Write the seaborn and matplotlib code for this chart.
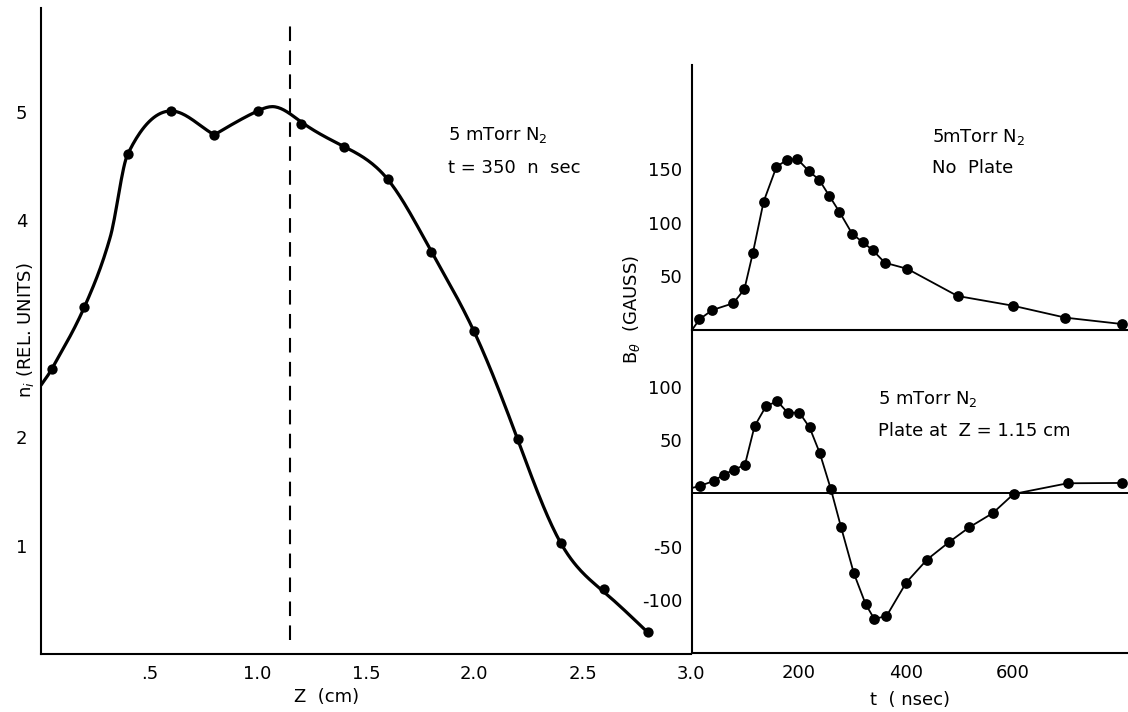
import numpy as np
import pandas as pd
import matplotlib
matplotlib.use("Agg")
import matplotlib.pyplot as plt
import seaborn as sns

# ---------------- data ----------------
# Left panel: ion density vs axial position, t = 350 ns
Z_CM = [0.05, 0.2, 0.4, 0.6, 0.8, 1.0, 1.2, 1.4, 1.6, 1.8, 2.0, 2.2, 2.4, 2.6, 2.8]
N_REL = [2.63, 3.20, 4.61, 5.01, 4.79, 5.01, 4.89, 4.68, 4.38, 3.71, 2.98, 1.98, 1.02, 0.60, 0.20]
# hand-drawn curve knots (curve has a corner at Z = 0.8)
CURVE_Z_A = [0.0, 0.05, 0.2, 0.32, 0.4, 0.6, 0.8]
CURVE_N_A = [2.48, 2.63, 3.20, 3.85, 4.61, 5.01, 4.79]
CURVE_Z_B = [0.8, 1.0, 1.07, 1.2, 1.4, 1.6, 1.8, 2.0, 2.2, 2.4, 2.6, 2.8]
CURVE_N_B = [4.79, 5.01, 5.05, 4.91, 4.68, 4.38, 3.72, 2.97, 1.98, 1.02, 0.57, 0.20]
PLATE_Z = 1.15

# Right top: B_theta, no plate
T_NOPLATE = [0, 14, 38, 77, 98, 114, 134, 158, 177, 197, 219, 238, 257, 276, 300, 320,
             338, 361, 403, 497, 600, 699, 804]
B_NOPLATE = [0, 10.0, 18.6, 24.9, 37.9, 72, 119.6, 152, 158.4, 159.4, 148, 140, 125, 110,
             89.5, 81.7, 74.5, 62.7, 57, 31.7, 22.7, 11.5, 5.6]

# Right bottom: B_theta, plate at Z = 1.15 cm
T_PLATE = [0, 15, 41, 59, 78, 99, 117, 139, 160, 179, 201, 220, 239, 260, 279, 303, 325,
           341, 364, 401, 440, 481, 519, 563, 602, 703, 804]
B_PLATE = [5, 7, 11.6, 17.4, 22, 26.6, 62.7, 82, 86, 75.5, 75.5, 61.7, 37.9, 3.7, -31.8,
           -75, -103.8, -117.5, -115, -83.5, -62, -45.7, -31.8, -18.5, -0.6, 9.4, 9.7]

LEFT_XTICKS = [0.5, 1.0, 1.5, 2.0, 2.5, 3.0]
LEFT_XTICKLABELS = [".5", "1.0", "1.5", "2.0", "2.5", "3.0"]
LEFT_YTICKS = [1, 2, 3, 4, 5]
LEFT_YTICKLABELS = ["1", "2", "", "4", "5"]
RIGHT_XTICKS = [200, 400, 600]
RIGHT_XTICKLABELS = ["200", "400", "600"]
TOP_YTICKS = [50, 100, 150]
BOT_YTICKS = [-100, -50, 50, 100]
BOT_YTICKLABELS = ["-100", "-50", "50", "100"]


def hermite_curve(x, y, num=150):
    """Cubic Hermite (Catmull-Rom style) drawn through the knots, flat at local extrema."""
    x = np.asarray(x, float)
    y = np.asarray(y, float)
    h = np.diff(x)
    delta = np.diff(y) / h
    n = len(x)
    m = np.zeros(n)
    for i in range(1, n - 1):
        if delta[i - 1] * delta[i] <= 0:
            m[i] = 0.0
        else:
            m[i] = (y[i + 1] - y[i - 1]) / (x[i + 1] - x[i - 1])
    m[0] = delta[0]
    m[-1] = delta[-1]
    xs = np.linspace(x[0], x[-1], num)
    idx = np.clip(np.searchsorted(x, xs) - 1, 0, n - 2)
    t = (xs - x[idx]) / h[idx]
    h00 = 2 * t ** 3 - 3 * t ** 2 + 1
    h10 = t ** 3 - 2 * t ** 2 + t
    h01 = -2 * t ** 3 + 3 * t ** 2
    h11 = t ** 3 - t ** 2
    ys = h00 * y[idx] + h10 * h[idx] * m[idx] + h01 * y[idx + 1] + h11 * h[idx] * m[idx + 1]
    return xs, ys


def natural_spline(x, y, num=300):
    x = np.asarray(x, float)
    y = np.asarray(y, float)
    n = len(x)
    h = np.diff(x)
    A = np.zeros((n, n))
    r = np.zeros(n)
    A[0, 0] = 1
    A[-1, -1] = 1
    for i in range(1, n - 1):
        A[i, i - 1] = h[i - 1]
        A[i, i] = 2 * (h[i - 1] + h[i])
        A[i, i + 1] = h[i]
        r[i] = 3 * ((y[i + 1] - y[i]) / h[i] - (y[i] - y[i - 1]) / h[i - 1])
    c = np.linalg.solve(A, r)
    b = np.diff(y) / h - h * (2 * c[:-1] + c[1:]) / 3
    d = np.diff(c) / (3 * h)
    xs = np.linspace(x[0], x[-1], num)
    idx = np.clip(np.searchsorted(x, xs) - 1, 0, n - 2)
    dx = xs - x[idx]
    ys = y[idx] + b[idx] * dx + c[idx] * dx ** 2 + d[idx] * dx ** 3
    return xs, ys


sns.set_theme(style="white")
plt.rcParams["font.family"] = ["DejaVu Sans"]
plt.rcParams["axes.unicode_minus"] = False

W, H = 1128, 712
fig = plt.figure(figsize=(W / 100, H / 100), dpi=100)


def box(x0, y0, x1, y1):
    return [x0 / W, 1 - y1 / H, (x1 - x0) / W, (y1 - y0) / H]


axL = fig.add_axes(box(41, 8, 691, 654))
axT = fig.add_axes(box(692, 65, 1128, 330))
axB = fig.add_axes(box(692, 330, 1128, 653))

for ax in (axL, axT, axB):
    ax.set_facecolor("none")
    for s in ("top", "right"):
        ax.spines[s].set_visible(False)
    for s in ("left", "bottom"):
        ax.spines[s].set_color("black")
        ax.spines[s].set_linewidth(1.5)

# ---- left panel ----
za, na = hermite_curve(CURVE_Z_A, CURVE_N_A)
zb, nb = natural_spline(CURVE_Z_B, CURVE_N_B)
curve = pd.DataFrame({"z": np.concatenate([za, zb[1:]]), "n": np.concatenate([na, nb[1:]])})
sns.lineplot(data=curve, x="z", y="n", ax=axL, color="black", lw=2.3, sort=False, estimator=None)
sns.scatterplot(x=Z_CM, y=N_REL, ax=axL, color="black", s=55, edgecolor="black", linewidth=0, zorder=3)
axL.axvline(PLATE_Z, ymin=0.022, ymax=0.981, color="black", lw=1.5, linestyle=(0, (7, 4.5)))
axL.set_xlim(0, 3.0)
axL.set_ylim(0, 5.96)
axL.set_xticks(LEFT_XTICKS)
axL.set_xticklabels(LEFT_XTICKLABELS)
axL.set_yticks(LEFT_YTICKS)
axL.set_yticklabels(LEFT_YTICKLABELS)
axL.tick_params(axis="y", direction="in", length=12, width=1.5, pad=10, labelsize=13, colors="black")
axL.tick_params(axis="x", direction="in", length=10, width=1.5, pad=8, labelsize=13, colors="black")
axL.set_xlabel("")
axL.set_ylabel("")

# ---- right top ----
sns.lineplot(x=T_NOPLATE, y=B_NOPLATE, ax=axT, color="black", lw=1.3, sort=False, estimator=None)
sns.scatterplot(x=T_NOPLATE[1:], y=B_NOPLATE[1:], ax=axT, color="black", s=60, linewidth=0,
                zorder=3, clip_on=False)
axT.set_xlim(0, 816)
axT.set_ylim(0, 247)
axT.set_xticks(RIGHT_XTICKS)
axT.set_xticklabels([])
axT.set_yticks(TOP_YTICKS)
axT.tick_params(axis="y", direction="in", length=7, width=1.5, pad=7, labelsize=13, colors="black")
axT.tick_params(axis="x", direction="inout", length=10, width=1.5, colors="black")
axT.set_xlabel("")
axT.set_ylabel("")

# ---- right bottom ----
sns.lineplot(x=T_PLATE, y=B_PLATE, ax=axB, color="black", lw=1.3, sort=False, estimator=None)
sns.scatterplot(x=T_PLATE[1:], y=B_PLATE[1:], ax=axB, color="black", s=60, linewidth=0,
                zorder=3, clip_on=False)
axB.axhline(0, color="black", lw=1.4)
axB.set_xlim(0, 816)
axB.set_ylim(-149.5, 152.9)
axB.set_xticks(RIGHT_XTICKS)
axB.set_xticklabels(RIGHT_XTICKLABELS)
axB.set_yticks(BOT_YTICKS)
axB.set_yticklabels(BOT_YTICKLABELS)
axB.tick_params(axis="y", direction="in", length=7, width=1.5, pad=7, labelsize=13, colors="black")
axB.tick_params(axis="x", direction="in", length=9, width=1.5, pad=8, labelsize=13, colors="black")
axB.set_xlabel("")
axB.set_ylabel("")


def ftext(x, y, s, **kw):
    kw.setdefault("fontsize", 13)
    kw.setdefault("color", "black")
    fig.text(x / W, 1 - y / H, s, **kw)


ftext(448, 140, "5 mTorr N$_2$", ha="left", va="baseline")
ftext(448, 173, "t = 350  n  sec", ha="left", va="baseline")
ftext(932, 142, "5mTorr N$_2$", ha="left", va="baseline")
ftext(932, 173, "No  Plate", ha="left", va="baseline")
ftext(878, 404, "5 mTorr N$_2$", ha="left", va="baseline")
ftext(878, 436, "Plate at  Z = 1.15 cm", ha="left", va="baseline")

ftext(327, 697, "Z  (cm)", ha="center", va="center")
ftext(910, 700, "t  ( nsec)", ha="center", va="center")
ftext(25, 330, "n$_i$ (REL. UNITS)", ha="center", va="center", rotation=90)
ftext(632, 310, r"B$_\theta$  (GAUSS)", ha="center", va="center", rotation=90)

fig.savefig("out.png", dpi=100, facecolor="white")
